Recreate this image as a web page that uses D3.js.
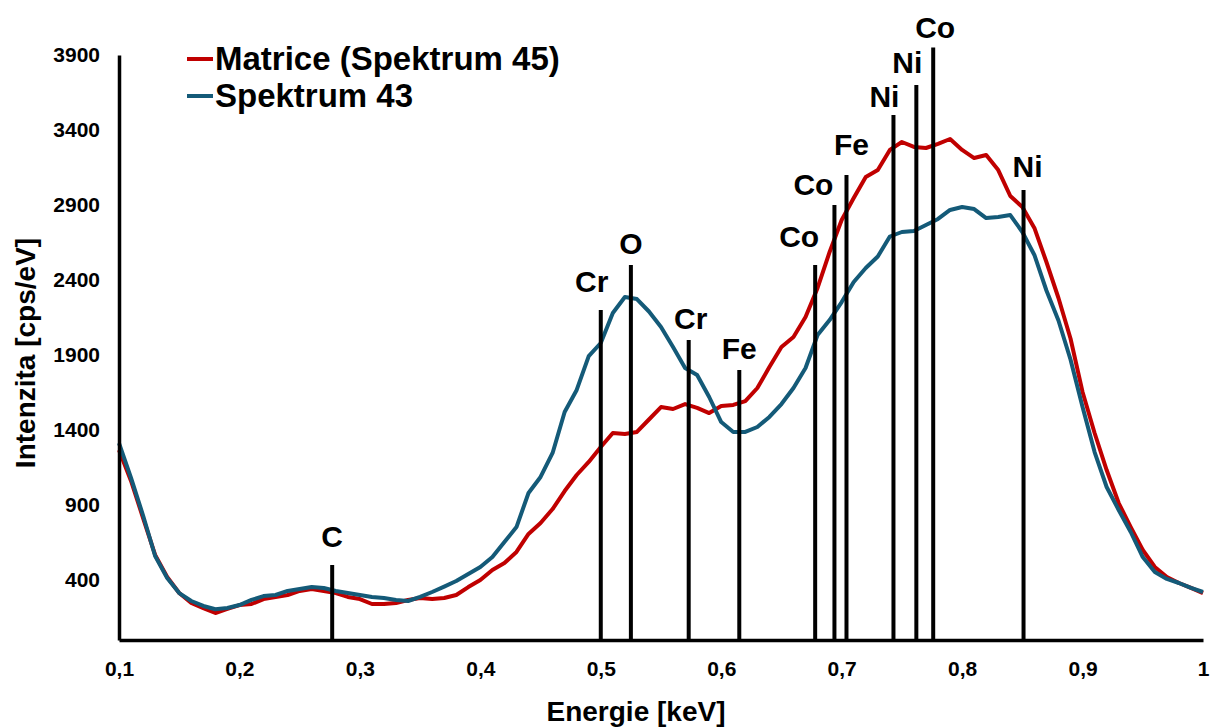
<!DOCTYPE html>
<html>
<head>
<meta charset="utf-8">
<script src="https://cdn.jsdelivr.net/npm/d3@7"></script>
<style>
  html, body { margin: 0; padding: 0; background: #ffffff; }
  svg { display: block; font-family: "Liberation Sans", Arial, sans-serif; font-weight: bold; }
</style>
</head>
<body>
<svg id="chart" width="1213" height="727"></svg>
<script>
// Energy channels [keV]
const energy = [
  0.10, 0.11, 0.12, 0.13, 0.14, 0.15, 0.16, 0.17, 0.18, 0.19,
  0.20, 0.21, 0.22, 0.23, 0.24, 0.25, 0.26, 0.27, 0.28, 0.29,
  0.30, 0.31, 0.32, 0.33, 0.34, 0.35, 0.36, 0.37, 0.38, 0.39,
  0.40, 0.41, 0.42, 0.43, 0.44, 0.45, 0.46, 0.47, 0.48, 0.49,
  0.50, 0.51, 0.52, 0.53, 0.54, 0.55, 0.56, 0.57, 0.58, 0.59,
  0.60, 0.61, 0.62, 0.63, 0.64, 0.65, 0.66, 0.67, 0.68, 0.69,
  0.70, 0.71, 0.72, 0.73, 0.74, 0.75, 0.76, 0.77, 0.78, 0.79,
  0.80, 0.81, 0.82, 0.83, 0.84, 0.85, 0.86, 0.87, 0.88, 0.89,
  0.90, 0.91, 0.92, 0.93, 0.94, 0.95, 0.96, 0.97, 0.98, 0.99,
  1.00
];

// Matrice (Spektrum 45) [cps/eV]
const matrice = [
  1267, 1060, 813, 567, 420, 313, 247, 213, 180, 207,
  233, 240, 273, 287, 300, 327, 340, 327, 313, 287,
  273, 240, 240, 247, 267, 280, 273, 280, 300, 353,
  400, 467, 513, 587, 707, 780, 873, 993, 1100, 1187,
  1287, 1380, 1373, 1387, 1470, 1553, 1540, 1573, 1547, 1513,
  1560, 1567, 1593, 1680, 1820, 1953, 2020, 2153, 2347, 2587,
  2800, 2947, 3087, 3133, 3267, 3320, 3287, 3280, 3307, 3340,
  3267, 3213, 3233, 3133, 2960, 2887, 2747, 2520, 2280, 2010,
  1653, 1380, 1133, 913, 753, 600, 487, 420, 380, 347,
  313
];

// Spektrum 43 [cps/eV]
const spektrum43 = [
  1313, 1080, 830, 560, 413, 313, 260, 227, 205, 213,
  233, 267, 293, 300, 327, 340, 353, 347, 327, 313,
  300, 287, 280, 267, 260, 287, 320, 356, 393, 440,
  487, 553, 653, 753, 980, 1087, 1247, 1520, 1667, 1893,
  1980, 2180, 2287, 2273, 2190, 2087, 1953, 1813, 1767, 1620,
  1453, 1387, 1387, 1420, 1487, 1573, 1680, 1813, 2033, 2133,
  2253, 2387, 2480, 2557, 2690, 2720, 2727, 2767, 2807, 2867,
  2887, 2873, 2813, 2820, 2833, 2720, 2567, 2330, 2130, 1870,
  1553, 1253, 1020, 867, 720, 553, 453, 407, 380, 347,
  320
];

// Characteristic X-ray lines: element, energy [keV], marker height [cps/eV]
const lineElements = ["C", "Cr", "O", "Cr", "Fe", "Co", "Co", "Fe", "Ni", "Ni", "Co", "Ni"];
const lineEnergies = [0.277, 0.500, 0.525, 0.573, 0.615, 0.678, 0.694, 0.704, 0.743, 0.762, 0.776, 0.851];
const lineHeights  = [500, 2200, 2500, 2000, 1800, 2500, 2900, 3100, 3500, 3700, 3950, 3000];

// Axis ticks
const xTicks = [0.1, 0.2, 0.3, 0.4, 0.5, 0.6, 0.7, 0.8, 0.9, 1.0];
const xTickLabels = ["0,1", "0,2", "0,3", "0,4", "0,5", "0,6", "0,7", "0,8", "0,9", "1"];
const yTicks = [400, 900, 1400, 1900, 2400, 2900, 3400, 3900];

// Series names
const seriesNames = ["Matrice (Spektrum 45)", "Spektrum 43"];

// ---- layout & style ----
const colors = ["#c00000", "#145a78"];
// label nudges [dx, dy] relative to the top of each line marker, in px
const labelNudge = [
  [0, -18], [-9, -18], [0, -11], [2, -11], [0, -11], [-16, -18],
  [-21, -10], [5, -20], [-9, -8], [-9, -12], [2, -10], [4, -13]
];

const svg = d3.select("#chart");
const plot = { left: 119, right: 1203, top: 55, bottom: 640 };

const x = d3.scaleLinear().domain([0.1, 1.0]).range([plot.left, plot.right]);
const y = d3.scaleLinear().domain([0, 3900]).range([plot.bottom, plot.top]);

// Spectra
const series = [matrice, spektrum43];
const line = d3.line()
  .x((d, i) => x(energy[i]))
  .y(d => y(d));

svg.append("g").attr("class", "series")
  .selectAll("path")
  .data(series)
  .join("path")
  .attr("d", d => line(d))
  .attr("fill", "none")
  .attr("stroke", (d, i) => colors[i])
  .attr("stroke-width", 4)
  .attr("stroke-linejoin", "round");

// X axis
const xAxis = d3.axisBottom(x)
  .tickValues(xTicks)
  .tickFormat((d, i) => xTickLabels[i])
  .tickSize(0)
  .tickPadding(21);
const gx = svg.append("g")
  .attr("transform", `translate(0,${plot.bottom})`)
  .call(xAxis);
gx.select(".domain").attr("stroke", "#000").attr("stroke-width", 3.5);
gx.selectAll("text").attr("font-size", 21).attr("font-weight", "bold")
  .attr("font-family", "Liberation Sans, Arial, sans-serif").attr("fill", "#000");

// Y axis
const yAxis = d3.axisLeft(y)
  .tickValues(yTicks)
  .tickFormat(d3.format("d"))
  .tickSize(0)
  .tickPadding(19);
const gy = svg.append("g")
  .attr("transform", `translate(${plot.left},0)`)
  .call(yAxis);
gy.select(".domain").attr("stroke", "#000").attr("stroke-width", 3.5);
gy.selectAll("text").attr("font-size", 21).attr("font-weight", "bold")
  .attr("font-family", "Liberation Sans, Arial, sans-serif").attr("fill", "#000");

// Element line markers
const markers = svg.append("g").attr("class", "markers");
markers.selectAll("line")
  .data(lineEnergies)
  .join("line")
  .attr("x1", d => x(d))
  .attr("x2", d => x(d))
  .attr("y1", y(0))
  .attr("y2", (d, i) => y(lineHeights[i]))
  .attr("stroke", "#000")
  .attr("stroke-width", 4);

markers.selectAll("text")
  .data(lineElements)
  .join("text")
  .attr("x", (d, i) => x(lineEnergies[i]) + labelNudge[i][0])
  .attr("y", (d, i) => y(lineHeights[i]) + labelNudge[i][1])
  .attr("text-anchor", "middle")
  .attr("font-size", 30)
  .attr("fill", "#000")
  .text(d => d);

// Axis titles
svg.append("text")
  .attr("x", 636)
  .attr("y", 721)
  .attr("text-anchor", "middle")
  .attr("font-size", 28)
  .attr("fill", "#000")
  .text("Energie [keV]");

svg.append("text")
  .attr("transform", "translate(35,353) rotate(-90)")
  .attr("text-anchor", "middle")
  .attr("font-size", 28)
  .attr("fill", "#000")
  .text("Intenzita [cps/eV]");

// Legend
const legend = svg.append("g").attr("class", "legend");
const legendRows = legend.selectAll("g")
  .data(seriesNames)
  .join("g")
  .attr("transform", (d, i) => `translate(187,${59 + i * 37})`);
legendRows.append("line")
  .attr("x1", 0).attr("x2", 26)
  .attr("stroke", (d, i) => colors[i])
  .attr("stroke-width", 4);
legendRows.append("text")
  .attr("x", 28)
  .attr("y", 11)
  .attr("font-size", 33)
  .attr("fill", "#000")
  .text(d => d);
</script>
</body>
</html>
